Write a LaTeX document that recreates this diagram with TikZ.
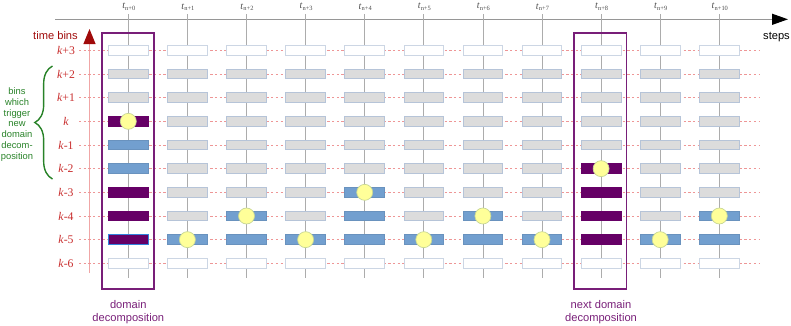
\documentclass[tikz,border=0pt]{standalone}
\usepackage{fontspec}
\setmainfont{Liberation Sans}
\newfontfamily\labelserif{Liberation Serif}
\definecolor{binred}{RGB}{200,45,45}
\definecolor{darkred}{RGB}{160,10,10}
\definecolor{gridred}{RGB}{238,150,150}
\definecolor{axisgray}{RGB}{150,150,150}
\definecolor{colgray}{RGB}{172,172,172}
\definecolor{boxgray}{RGB}{220,220,220}
\definecolor{boxedge}{RGB}{182,196,216}
\definecolor{blueact}{RGB}{114,159,207}
\definecolor{purpdd}{RGB}{102,0,102}
\definecolor{ddframe}{RGB}{120,30,120}
\definecolor{trig}{RGB}{40,130,40}
\definecolor{hitfill}{RGB}{255,255,153}
\definecolor{hitedge}{RGB}{200,215,150}
\definecolor{binpedge}{RGB}{50,130,220}
\usepackage{tikz}
\usetikzlibrary{arrows.meta,decorations.pathreplacing}

\tikzset{
  bin/.style={minimum width=1.19cm, minimum height=0.29cm, inner sep=0pt, line width=0.7pt},
  binw/.style={bin, draw=boxedge!70, fill=white},
  bing/.style={bin, draw=boxedge, fill=boxgray},
  binb/.style={bin, draw=blueact!92!black, fill=blueact},
  binp/.style={bin, draw=purpdd, fill=purpdd},
  binpb/.style={bin, draw=binpedge, fill=purpdd},
  hit/.style={circle, minimum size=0.48cm, inner sep=0pt, fill=hitfill, draw=hitedge, line width=0.6pt},
  rowlab/.style={font=\labelserif\fontsize{10}{12}\selectfont, text=binred},
  steplab/.style={font=\labelserif\fontsize{8.5}{9}\selectfont, text=black!70},
  caption/.style={font=\fontsize{9.5}{10.8}\selectfont, align=center},
}

\begin{document}
\begin{tikzpicture}[x=0.03cm, y=-0.03cm]
  \useasboundingbox (0,0) rectangle (791,325);

  % axes
  \coordinate (ax0) at (55,19.3);
  \coordinate (ax1) at (788,19.3);
  \draw[axisgray, line width=1pt, -{Triangle[length=0.48cm, width=0.33cm, color=black]}] (ax0) -- (ax1);
  \node[font=\fontsize{9.5}{11}\selectfont] (steps) at (776.5,36.7) {steps};

  \coordinate (tb0) at (89.5,273);
  \coordinate (tb1) at (89.5,29);
  \draw[gridred!85, line width=0.8pt, -{Triangle[length=0.45cm, width=0.36cm, color=darkred]}] (tb0) -- (tb1);
  \node[font=\fontsize{9.5}{11}\selectfont, text=darkred] (tbins) at (55.5,36) {time bins};

  % rows
  \foreach \r/\lab in {0/+3,1/+2,2/+1,3/,4/-1,5/-2,6/-3,7/-4,8/-5,9/-6} {
    \draw[gridred, line width=0.6pt, dash pattern=on 2pt off 2pt] (79,{50.3+23.67*\r}) -- (760,{50.3+23.67*\r});
    \node[rowlab] (k\r) at (66,{50.3+23.67*\r}) {\textit{k}\lab};
  }

  % steps
  \foreach \c in {0,...,10} {
    \draw[colgray, line width=0.6pt] ({128.3+59.1*\c},14) -- ({128.3+59.1*\c},278.3);
    \node[steplab] (t\c) at ({128.8+59.1*\c},7) {\textit{t}\raisebox{-.35ex}{\fontsize{5.5}{6}\selectfont n+\c}};
  }

  % bins per step, top (k+3) to bottom (k-6)
  \foreach \c/\bins in {
      0/{binw,bing,bing,binp,binb,binb,binp,binp,binpb,binw},
      1/{binw,bing,bing,bing,bing,bing,bing,bing,binb,binw},
      2/{binw,bing,bing,bing,bing,bing,bing,binb,binb,binw},
      3/{binw,bing,bing,bing,bing,bing,bing,bing,binb,binw},
      4/{binw,bing,bing,bing,bing,bing,binb,binb,binb,binw},
      5/{binw,bing,bing,bing,bing,bing,bing,bing,binb,binw},
      6/{binw,bing,bing,bing,bing,bing,bing,binb,binb,binw},
      7/{binw,bing,bing,bing,bing,bing,bing,bing,binb,binw},
      8/{binw,bing,bing,bing,bing,binp,binp,binp,binp,binw},
      9/{binw,bing,bing,bing,bing,bing,bing,bing,binb,binw},
      10/{binw,bing,bing,bing,bing,bing,bing,binb,binb,binw}} {
    \foreach \s [count=\r from 0] in \bins {
      \node[\s] (b\c-\r) at ({128.3+59.1*\c},{50.3+23.67*\r}) {};
    }
  }

  % active bins
  \node[hit] (h0)  at (b0-3)  {};
  \node[hit] (h1)  at (b1-8)  {};
  \node[hit] (h2)  at (b2-7)  {};
  \node[hit] (h3)  at (b3-8)  {};
  \node[hit] (h4)  at (b4-6)  {};
  \node[hit] (h5)  at (b5-8)  {};
  \node[hit] (h6)  at (b6-7)  {};
  \node[hit] (h7)  at (b7-8)  {};
  \node[hit] (h8)  at (b8-5)  {};
  \node[hit] (h9)  at (b9-8)  {};
  \node[hit] (h10) at (b10-7) {};

  % decompositions
  \draw[ddframe, line width=1.5pt] (102,33) rectangle (154,289);
  \draw[ddframe, line width=1.5pt] (574,33) rectangle (626.5,289);
  \node[caption, text=ddframe] (dd0) at (128.3,312) {domain\\decomposition};
  \node[caption, text=ddframe] (dd1) at (601,312) {next domain\\decomposition};

  % trigger bins
  \coordinate (br0) at (52.5,179);
  \coordinate (br1) at (52.5,66);
  \draw[trig, line width=1.2pt, decorate, decoration={brace, amplitude=0.53cm}] (br0) -- (br1);
  \node[font=\fontsize{8}{9.3}\selectfont, text=trig, align=center] (trigtxt) at (17,124.5)
    {bins\\which\\trigger\\new\\domain\\decom-\\position};
\end{tikzpicture}
\end{document}
